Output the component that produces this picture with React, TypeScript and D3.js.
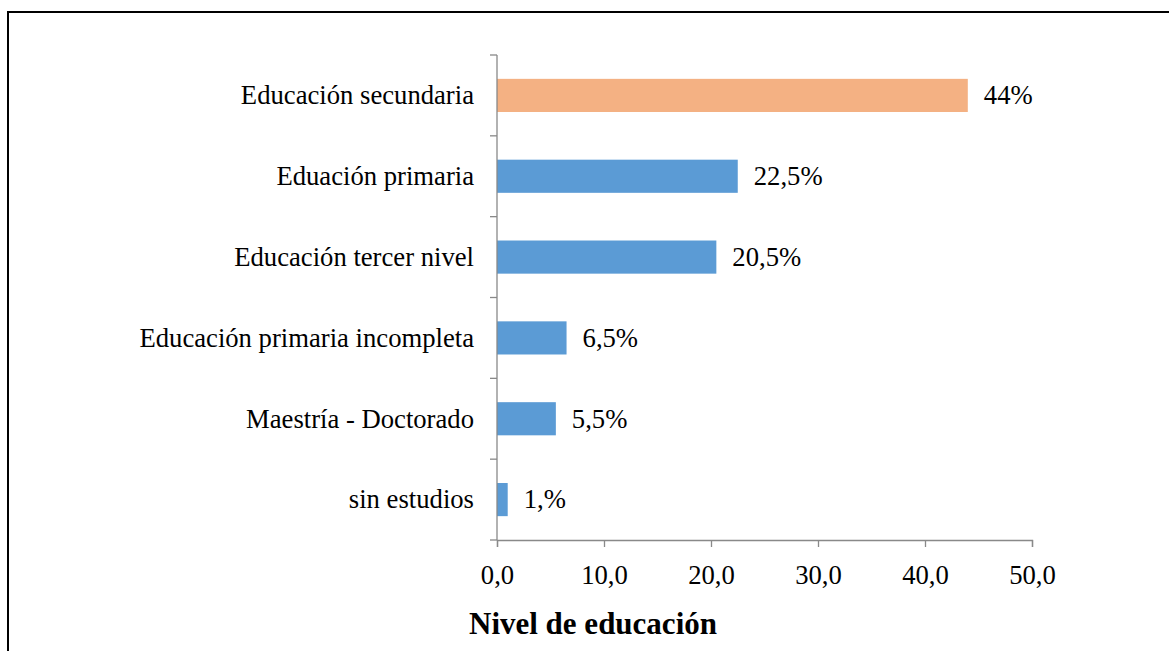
import React, { useEffect, useRef } from 'react';
import * as d3 from 'd3';

const categories = [
  'Educación secundaria',
  'Eduación primaria',
  'Educación tercer nivel',
  'Educación primaria incompleta',
  'Maestría - Doctorado',
  'sin estudios',
];
const values = [44, 22.5, 20.5, 6.5, 5.5, 1];
const valueLabels = ['44%', '22,5%', '20,5%', '6,5%', '5,5%', '1,%'];
const xTicks = [0, 10, 20, 30, 40, 50];
const axisTitle = 'Nivel de educación';

const App: React.FC = () => {
  const svgRef = useRef<SVGSVGElement>(null);

  useEffect(() => {
    if (!svgRef.current) return;
    const svg = d3.select(svgRef.current);
    svg.selectAll('*').remove();

    const width = 1169;
    const height = 651;
    const left = 497;
    const right = 1032;
    const top = 55;
    const bottom = 540;
    const font = '"Liberation Serif", "Times New Roman", serif';
    const fs = 26.67;

    // frame around the figure
    svg.append('rect')
      .attr('x', 8)
      .attr('y', 12)
      .attr('width', width)
      .attr('height', height)
      .attr('fill', 'none')
      .attr('stroke', '#000')
      .attr('stroke-width', 2);

    const x = d3.scaleLinear().domain([0, 50]).range([left, right]);
    const y = d3.scaleBand<string>()
      .domain(categories)
      .range([top, bottom])
      .paddingInner(0.59)
      .paddingOuter(0.295);

    const data = categories.map((c, i) => ({ c, v: values[i], label: valueLabels[i] }));

    // bars
    svg.append('g')
      .selectAll('rect')
      .data(data)
      .join('rect')
      .attr('x', x(0))
      .attr('y', d => y(d.c)!)
      .attr('width', d => x(d.v) - x(0))
      .attr('height', y.bandwidth())
      .attr('fill', (d, i) => (i === 0 ? '#F4B183' : '#5B9BD5'));

    // value labels
    svg.append('g')
      .selectAll('text')
      .data(data)
      .join('text')
      .attr('x', d => x(d.v) + 16)
      .attr('y', d => y(d.c)! + y.bandwidth() / 2)
      .attr('dy', '0.33em')
      .attr('font-family', font)
      .attr('font-size', fs)
      .attr('fill', '#000')
      .text(d => d.label);

    // y axis: line + category boundary ticks
    const yAxis = svg.append('g');
    yAxis.append('line')
      .attr('x1', left).attr('x2', left)
      .attr('y1', top).attr('y2', bottom)
      .attr('stroke', '#898989').attr('stroke-width', 1.3);
    const step = (bottom - top) / categories.length;
    yAxis.selectAll('line.tick')
      .data(d3.range(categories.length + 1))
      .join('line')
      .attr('class', 'tick')
      .attr('x1', left - 7).attr('x2', left)
      .attr('y1', i => top + i * step)
      .attr('y2', i => top + i * step)
      .attr('stroke', '#898989').attr('stroke-width', 1.3);
    yAxis.selectAll('text')
      .data(categories)
      .join('text')
      .attr('x', left - 23)
      .attr('y', d => y(d)! + y.bandwidth() / 2)
      .attr('dy', '0.33em')
      .attr('text-anchor', 'end')
      .attr('font-family', font)
      .attr('font-size', fs)
      .attr('fill', '#000')
      .text(d => d);

    // x axis
    const xAxis = svg.append('g')
      .attr('transform', `translate(0,${bottom})`)
      .call(
        d3.axisBottom(x)
          .tickValues(xTicks)
          .tickSize(7)
          .tickFormat(d => d3.format('.1f')(d as number).replace('.', ','))
      );
    xAxis.select('.domain').attr('stroke', '#898989').attr('stroke-width', 1.3);
    xAxis.selectAll('.tick line').attr('stroke', '#898989').attr('stroke-width', 1.3);
    xAxis.selectAll('.tick text')
      .attr('y', 44)
      .attr('dy', 0)
      .attr('font-family', font)
      .attr('font-size', fs)
      .attr('fill', '#000');

    svg.append('text')
      .attr('x', 593)
      .attr('y', 634)
      .attr('text-anchor', 'middle')
      .attr('font-family', font)
      .attr('font-size', 31)
      .attr('font-weight', 'bold')
      .attr('fill', '#000')
      .text(axisTitle);
  }, []);

  return (
    <svg
      ref={svgRef}
      width={1169}
      height={651}
      style={{ position: 'absolute', top: 0, left: 0, display: 'block', background: '#fff' }}
    />
  );
};

export default App;
